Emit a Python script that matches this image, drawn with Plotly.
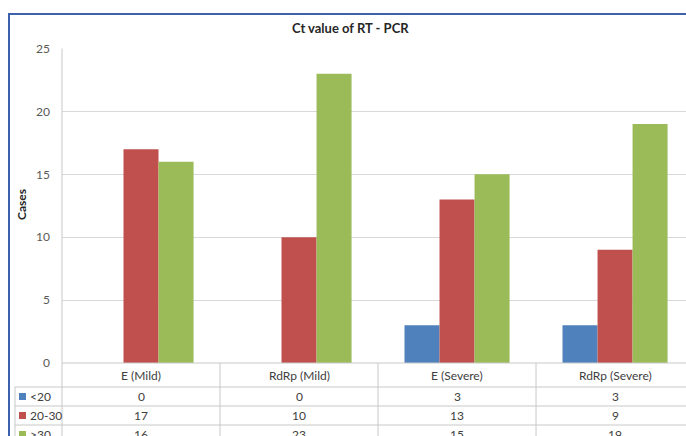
import plotly.graph_objects as go

# Chart data
categories = ["E (Mild)", "RdRp (Mild)", "E (Severe)", "RdRp (Severe)"]
series_names = ["<20", "20-30", ">30"]
lt20 = [0, 0, 3, 3]
from20to30 = [17, 10, 13, 9]
gt30 = [16, 23, 15, 19]
y_ticks = [0, 5, 10, 15, 20, 25]

series_values = [lt20, from20to30, gt30]
colors = ["#4f81bd", "#c0504d", "#9bbb59"]

W, H = 686, 436
FONT = "Lato"
TEXT = "#404040"
GRID = "#d9d9d9"


def px(x):
    return x / W


def py(y):
    return 1 - y / H


fig = go.Figure()
for name, vals, col in zip(series_names, series_values, colors):
    fig.add_trace(go.Bar(x=categories, y=vals, name=name, marker_color=col,
                         marker_line_width=0, showlegend=False))

plot_top, plot_bottom = 48.5, 363
fig.update_layout(
    width=W, height=H, autosize=False,
    margin=dict(l=0, r=0, t=0, b=0, pad=0, autoexpand=False),
    paper_bgcolor="white", plot_bgcolor="white",
    barmode="group", bargap=0.335, bargroupgap=0,
    font=dict(family=FONT, color=TEXT, size=12),
    xaxis=dict(domain=[px(62), 1], range=[-0.5, 3.449], showticklabels=False,
               showgrid=False, zeroline=False, showline=False, fixedrange=True,
               automargin=False),
    yaxis=dict(domain=[py(plot_bottom), py(plot_top)], range=[0, 25],
               tickvals=y_ticks, showgrid=True, gridcolor=GRID, gridwidth=1,
               zeroline=False, showline=False, ticks="", automargin=False,
               ticklabelstandoff=11,
               tickfont=dict(family=FONT, size=12, color="#595959")),
)

shapes = []
annotations = []

# Outer chart frame (left and top edges are visible)
frame = dict(color="#3d62ad", width=2)
shapes.append(dict(type="line", xref="paper", yref="paper",
                   x0=px(9), x1=px(9), y0=0, y1=py(13), line=frame))
shapes.append(dict(type="line", xref="paper", yref="paper",
                   x0=px(8), x1=1, y0=py(14), y1=py(14), line=frame))

# Title and axis title
annotations.append(dict(text="<b>Ct value of RT - PCR</b>", xref="paper", yref="paper",
                        x=px(351), y=py(28), xanchor="center", yanchor="middle",
                        showarrow=False,
                        font=dict(family=FONT, size=13, color="#262626")))
annotations.append(dict(text="<b>Cases</b>", xref="paper", yref="paper",
                        x=px(21), y=py(205), xanchor="center", yanchor="middle",
                        textangle=-90, showarrow=False,
                        font=dict(family=FONT, size=12, color="#262626")))

# Data table below the plot
header_bottom = 387
row_edges = [387, 406, 425, 444]
line_col = "#c8c8c8"

# vertical axis line continuing through the table
shapes.append(dict(type="line", xref="paper", yref="paper",
                   x0=px(62), x1=px(62), y0=py(plot_top), y1=0,
                   line=dict(color=line_col, width=1)))
# column separators
for k in range(1, len(categories)):
    shapes.append(dict(type="line", xref="x", yref="paper",
                       x0=k - 0.5, x1=k - 0.5, y0=py(plot_bottom), y1=0,
                       line=dict(color=line_col, width=1)))
# baseline
shapes.append(dict(type="line", xref="paper", yref="paper",
                   x0=px(62), x1=1, y0=py(plot_bottom), y1=py(plot_bottom),
                   line=dict(color=line_col, width=1)))
# row separators
for ry in row_edges[:-1]:
    shapes.append(dict(type="line", xref="paper", yref="paper",
                       x0=px(15), x1=1, y0=py(ry), y1=py(ry),
                       line=dict(color=line_col, width=1)))
# left edge of the legend column
shapes.append(dict(type="line", xref="paper", yref="paper",
                   x0=px(15), x1=px(15), y0=py(header_bottom), y1=0,
                   line=dict(color=line_col, width=1)))

# header labels
for c in categories:
    annotations.append(dict(text=c, xref="x", yref="paper", x=c,
                            y=py((plot_bottom + header_bottom) / 2),
                            xanchor="center", yanchor="middle", showarrow=False,
                            font=dict(family=FONT, size=12, color=TEXT)))

# rows: legend key + values
for r, (name, vals, col) in enumerate(zip(series_names, series_values, colors)):
    cy = (row_edges[r] + row_edges[r + 1]) / 2
    shapes.append(dict(type="rect", xref="paper", yref="paper",
                       x0=px(19), x1=px(26), y0=py(cy + 3.5), y1=py(cy - 3.5),
                       line=dict(width=0), fillcolor=col))
    annotations.append(dict(text=name, xref="paper", yref="paper", x=px(27.5), y=py(cy),
                            xanchor="left", yanchor="middle", showarrow=False,
                            font=dict(family=FONT, size=12, color=TEXT)))
    for c, v in zip(categories, vals):
        annotations.append(dict(text=str(v), xref="x", yref="paper", x=c, y=py(cy),
                                xanchor="center", yanchor="middle", showarrow=False,
                                font=dict(family=FONT, size=12, color=TEXT)))

fig.update_layout(shapes=shapes, annotations=annotations)
fig.write_html("out.html")
